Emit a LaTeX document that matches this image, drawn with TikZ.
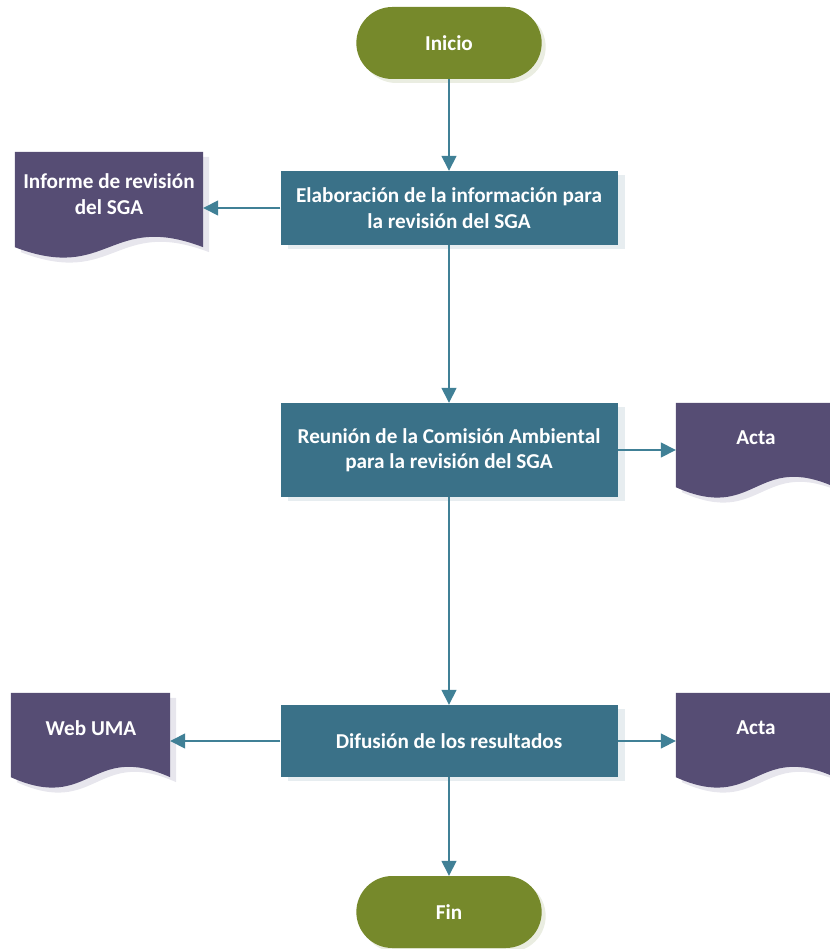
\documentclass[tikz,border=0pt]{standalone}
\usepackage{fontspec}
\setmainfont{Carlito}
\usetikzlibrary{shapes.misc}
\usetikzlibrary{arrows.meta}
\usetikzlibrary{shadows}
\definecolor{verde}{RGB}{118,137,43}
\definecolor{azul}{RGB}{58,113,136}
\definecolor{morado}{RGB}{86,77,116}
\definecolor{azulflecha}{RGB}{64,128,150}
\definecolor{sombraverde}{RGB}{234,237,225}
\definecolor{sombraazul}{RGB}{231,237,240}
\definecolor{sombramorado}{RGB}{231,230,237}
\tikzstyle{texto}=[font=\fontsize{21.2}{25.5}\selectfont\bfseries, text=white, align=center]
\tikzstyle{terminal}=[texto, rounded rectangle, fill=verde, minimum width=192pt, minimum height=72pt, drop shadow={shadow xshift=4pt, shadow yshift=-4pt, fill=sombraverde, opacity=1}]
\tikzstyle{proceso}=[texto, rectangle, fill=azul, minimum width=337pt, drop shadow={shadow xshift=7pt, shadow yshift=-4pt, fill=sombraazul, opacity=1}]
\tikzstyle{documento}=[inner sep=0pt, minimum width=159pt, minimum height=84pt]
\tikzstyle{flecha}=[draw=azulflecha, line width=1.5pt, -{Triangle[width=15pt,length=15pt]}]
% hoja con borde inferior ondulado
\newcommand{\docforma}[2]{%
  \fill[morado, drop shadow={shadow xshift=6pt, shadow yshift=-5pt, fill=sombramorado, opacity=1}]
    (#1.north west) -- (#1.north east) -- (#1.south east)
    .. controls +(-#2,-36) and +(#2,36) .. (#1.south west) -- cycle;}

\begin{document}
\begin{tikzpicture}[x=1pt, y=-1pt]
    \useasboundingbox (0,0) rectangle (829,949);
    % flujo principal
    \node[terminal] (inicio) at (449,43) {Inicio};
    \node[proceso, minimum height=74pt] (elab) at (449,208) {Elaboración de la información para\\la revisión del SGA};
    \node[proceso, minimum height=94pt] (reunion) at (449,450) {Reunión de la Comisión Ambiental\\para la revisión del SGA};
    \node[proceso, minimum height=72pt] (difusion) at (449,741) {Difusión de los resultados};
    \node[terminal] (fin) at (449,912) {Fin};
    % documentos
    \node[documento, minimum width=188pt, minimum height=95pt] (informe) at (109,199.5) {};
    \node[documento] (acta1) at (755.5,445) {};
    \node[documento] (web) at (90.5,735) {};
    \node[documento] (acta2) at (755.5,735) {};
    \docforma{informe}{94}
    \docforma{acta1}{80}
    \docforma{web}{80}
    \docforma{acta2}{80}
    \node[texto] (informetxt) at (109,194) {Informe de revisión\\del SGA};
    \node[texto] (acta1txt) at (756,438) {Acta};
    \node[texto] (webtxt) at (91,728) {Web UMA};
    \node[texto] (acta2txt) at (756,728) {Acta};
    % conectores
    \draw[flecha] (inicio.south) -- (elab.north);
    \draw[flecha] (elab.south) -- (reunion.north);
    \draw[flecha] (reunion.south) -- (difusion.north);
    \draw[flecha] (difusion.south) -- (fin.north);
    \draw[flecha] (elab.west) -- (elab.west -| informe.east);
    \draw[flecha] (reunion.east) -- (reunion.east -| acta1.west);
    \draw[flecha] (difusion.west) -- (difusion.west -| web.east);
    \draw[flecha] (difusion.east) -- (difusion.east -| acta2.west);
\end{tikzpicture}
\end{document}
